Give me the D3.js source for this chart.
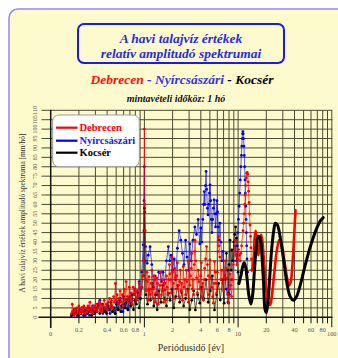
<!DOCTYPE html>
<html><head><meta charset="utf-8">
<script src="https://cdn.jsdelivr.net/npm/d3@7"></script>
<style>html,body{margin:0;padding:0;background:#fff;}svg{display:block;}</style>
</head><body>
<svg id="c" width="338" height="358"></svg>
<script>
// ---- Debrecen (red) ----
const debrecenPeriod = [
0.167,0.170,0.173,0.178,0.182,0.186,0.190,0.195,0.200,0.205,
0.210,0.216,0.220,0.226,0.232,0.238,0.244,0.250,0.256,0.262,
0.268,0.275,0.282,0.290,0.297,0.305,0.313,0.320,0.330,0.338,
0.346,0.355,0.364,0.373,0.383,0.393,0.403,0.413,0.424,0.435,
0.446,0.458,0.470,0.480,0.490,0.500,0.512,0.525,0.538,0.550,
0.565,0.580,0.595,0.610,0.625,0.638,0.655,0.670,0.690,0.705,
0.720,0.740,0.760,0.780,0.800,0.820,0.840,0.860,0.880,0.900,
0.930,0.960,0.980,1.000,1.010,1.020,1.035,1.050,1.065,1.080,
1.100,1.120,1.140,1.160,1.180,1.200,1.220,1.240,1.260,1.280,
1.305,1.330,1.355,1.380,1.405,1.430,1.460,1.490,1.520,1.550,
1.575,1.600,1.630,1.660,1.690,1.720,1.750,1.780,1.815,1.850,
1.875,1.900,1.930,1.960,1.995,2.030,2.065,2.100,2.140,2.180,
2.215,2.250,2.290,2.330,2.375,2.420,2.460,2.500,2.550,2.600,
2.650,2.700,2.750,2.800,2.850,2.900,2.950,3.000,3.050,3.100,
3.150,3.200,3.250,3.300,3.350,3.400,3.435,3.470,3.530,3.600,
3.680,3.750,3.820,3.900,3.980,4.050,4.120,4.200,4.260,4.330,
4.400,4.500,4.600,4.700,4.800,4.900,5.000,5.120,5.250,5.350,
5.450,5.530,5.600,5.700,5.800,5.900,6.000,6.080,6.160,6.280,
6.400,6.550,6.700,6.850,7.000,7.150,7.300,7.450,7.600,7.750,
7.900,8.050,8.200,8.380,8.550,8.720,8.900,9.100,9.300,9.500,
9.700,9.900,10.100,10.300,10.500,10.700,10.900,11.300,11.450,11.600,
11.750,11.900,12.050,12.200,12.350,12.500,12.650,12.800,12.950,13.100,
13.250,13.400,13.550,13.700,13.850,14.000];
const debrecenAmp = [
2,7,3,1,4,2,5,3,6,2,
4,5,3,6,2,5,3,6,4,8,
3,5,2,6,4,7,3,5,8,4,
7,3,6,9,5,7,4,8,10,6,
9,5,11,8,18,9,12,7,10,14,
8,12,6,15,9,19,11,8,16,10,
13,7,16,12,15,9,14,11,18,12,
16,22,30,100,60,46,20,14,24,19,
9,21.6,15,12,18,25,10,15,22,20,
8,13,21,18,7,11,17,24,12,14,
20,8,18,14.5,9,22,16,12,20,28,
23,20,13,32,24,18,10,26,21,15,
22,29,17,11,19,25,14,18,9,27,
16,20,12,25,19,14,8,30,17,22,
26,34,15,20,12,28,35,41,30,21,
13,25,19,15,22,29,11,18,9,20,
26,31,37.6,28,22,12,30.5,21,16,11,
7.5,18,29.6,24,18,13,24,35,43,38,
32,20,25,18,14,22,30,26,21,12,
7.5,15,23,17,11,20,28,35,41,33,
28,31,36,33,30,34,38,46,50,55,
60,65,70,74,76.5,77,76,72,67,61,
55,49,43,37,31,25];
const debrecenLongPeriod = [
14.0,14.5,15.0,15.4,15.9,16.4,17.0,17.6,18.2,19.0,
20.0,21.0,22.0,23.0,24.5,26.0,27.5,29.0,31.0,33.0,
35.0,36.5,38.0,39.5,41.0];
const debrecenLongAmp = [
25,28,42,46,40,33,38,44,40,28,
15,8,6.5,12,25,36,41,39,31,22,
17,19,28,42,57];

// ---- Nyírcsászári (blue) ----
const nyirPeriod = [
0.167,0.172,0.178,0.185,0.192,0.200,0.208,0.216,0.224,0.233,
0.242,0.250,0.260,0.270,0.280,0.290,0.300,0.310,0.322,0.335,
0.346,0.360,0.373,0.387,0.400,0.415,0.430,0.445,0.460,0.475,
0.490,0.510,0.530,0.550,0.570,0.590,0.610,0.630,0.650,0.670,
0.700,0.730,0.760,0.790,0.820,0.850,0.880,0.900,0.940,0.970,
0.990,1.000,1.010,1.030,1.070,1.100,1.150,1.200,1.250,1.300,
1.360,1.420,1.470,1.520,1.580,1.650,1.720,1.800,1.860,1.930,
2.000,2.080,2.150,2.250,2.350,2.450,2.550,2.650,2.750,2.850,
2.950,3.050,3.150,3.300,3.450,3.600,3.750,3.900,4.000,4.100,
4.200,4.280,4.350,4.420,4.480,4.550,4.620,4.700,4.780,4.860,
4.940,5.020,5.100,5.180,5.260,5.350,5.450,5.550,5.650,5.750,
5.850,5.950,6.050,6.150,6.250,6.400,6.550,6.700,6.900,7.200,
7.500,7.800,8.100,8.500,8.900,9.300,9.600,9.800,9.950,10.100,
10.250,10.400,10.550,10.700,10.850,10.950,11.050,11.150,11.250,11.350,
11.450,11.550,11.650,11.750,11.850,11.950,12.050,12.150,12.250,12.350,
12.450,12.600];
const nyirAmp = [
1,3,2,4,1,3,2,5,1,4,
2,3,1,4,6,2,5,3,7,9,
4,2,5,3,7,4,2,6,3,5,
2,8,4,10,6,3,7,5,9,4,
11,7,12,15,9,13,19,10,24,38.5,
62,80,56,37.6,28.7,33,37.5,28,16,22,
12,24,23.7,19,24,18,30,37.6,30,33,
25,31,20,36.7,46,41,34,28,41,32,
25,39,30,41,48,44,52,39,47.5,40,
52,60,66.8,60,70,77.5,68,58,54.4,60,
66,70.4,62,52,45,52,58,62.4,55,48,
55,62,56,48,41,50,40,30,35,22,
15,8,12,20,30,38,30,38,45,52,
59,66,73,80,86,91,95,97.5,98.7,97.5,
95,91,86,80,73,66,59,52,45,38,
31,24];

// ---- Kocsér (black) ----
const kocserPeriod = [
0.167,0.172,0.178,0.184,0.190,0.197,0.204,0.210,0.218,0.225,
0.233,0.240,0.248,0.256,0.265,0.274,0.283,0.292,0.302,0.312,
0.323,0.334,0.345,0.357,0.370,0.382,0.395,0.410,0.425,0.440,
0.455,0.470,0.487,0.505,0.523,0.540,0.560,0.580,0.600,0.620,
0.640,0.665,0.690,0.715,0.740,0.765,0.790,0.820,0.850,0.880,
0.910,0.940,0.970,0.990,1.000,1.015,1.040,1.080,1.120,1.160,
1.210,1.260,1.310,1.370,1.430,1.500,1.570,1.640,1.720,1.800,
1.880,1.970,2.060,2.160,2.270,2.380,2.500,2.620,2.750,2.900,
3.050,3.200,3.350,3.500,3.700,3.900,4.100,4.300,4.550,4.800,
5.050,5.300,5.600,5.900,6.200,6.450,6.800,7.100,7.300,7.500,
7.700,7.850,8.000,8.200,8.400,8.600,8.800,9.000,9.200,9.400,
9.600,9.800,10.000,10.200];
const kocserAmp = [
1,2,4,2,3,1,4,2,5,3,
1,4,2,5,3,1,4,2,5,3,
6,2,4,7,3,5,2,6,4,8,
3,5,2,7,4,9,3,6,11,5,
8,4,10,6,12,4,9,7,13,5,
10,16,22,46,58,30,12,7,15,9,
18,6,12,4,14,8,17,10,6,12.8,
9,15,5,11,17,8,13,6,10,15,
4,9,14,3.9,12,7.5,16,10,20,8,
14,22,3.9,12,18,9.2,20,7.5,20,34,
25,12.8,28,41,25,35.8,30,40,44,48,
42,33,24,18];
const kocserLongPeriod = [
10.2,10.7,11.2,11.6,12.0,12.5,13.0,13.7,14.3,15.0,
15.7,16.4,17.2,18.0,18.7,19.4,20.0,20.8,21.8,22.8,
24.0,25.0,26.3,27.8,29.5,31.5,33.5,36.0,39.0,42.0,
46.0,51.0,57.0,63.0,70.0,76.0,81.0];
const kocserLongAmp = [
18,22,27,29,27,20,12,7,12,26,
38,43,42,32,18,4,2.5,8,22,36,
46,50,49,44,36,26,17,11,9,11,
17,26,35,42,48,51.5,53];

// ---- axes ----
const gridPeriods = [0.2,0.3,0.4,0.5,0.6,0.7,0.8,0.9,1,2,3,4,5,6,7,8,9,10,20,30,40,50,60,70,80,90,100];
const decadePeriods = [0.1,1,10,100];
const xLabelValues = [0.1,0.2,0.4,0.6,0.8,1,2,4,6,8,10,20,40,60,80,100];
const xLabelTexts  = ["0","0.2","0.4","0.6","0.8","1","2","4","6","8","10","20","40","60","80","100"];
const yTickValues = [0,5,10,15,20,25,30,35,40,45,50,55,60,65,70,75,80,85,90,95,100,105,110];

const legendNames = ["Debrecen","Nyírcsászári","Kocsér"];
const seriesColors = ["#ff0000","#0000ff","#000000"];

const svg = d3.select("#c");
const serif = "'Liberation Serif', serif";

// panel
svg.append("rect").attr("x",9).attr("y",9).attr("width",345).attr("height",365).attr("rx",9)
  .attr("fill","#fdfbce").attr("stroke","#8a8af0").attr("stroke-width",1.5);

// title box
svg.append("rect").attr("x",78).attr("y",24).attr("width",206).attr("height",39).attr("rx",6)
  .attr("fill","none").attr("stroke","#1a1aee").attr("stroke-width",2);
const tt = svg.append("text").attr("text-anchor","middle").style("font-family",serif)
  .attr("font-weight","bold").attr("font-style","italic").attr("font-size",13.5).attr("fill","#2a2ae8");
tt.append("tspan").attr("x",181).attr("y",42.5).text("A havi talajvíz értékek");
tt.append("tspan").attr("x",181).attr("y",57.5).text("relatív amplitudó spektrumai");

const st = svg.append("text").attr("x",182).attr("y",83.5).attr("text-anchor","middle").style("font-family",serif)
  .attr("font-weight","bold").attr("font-style","italic").attr("font-size",13.5);
st.append("tspan").attr("fill","#ff1010").text("Debrecen");
st.append("tspan").attr("fill","#3434e8").text(" - Nyírcsászári");
st.append("tspan").attr("fill","#000").text(" - Kocsér");

svg.append("text").attr("x",176).attr("y",101.5).attr("text-anchor","middle").style("font-family",serif)
  .attr("font-weight","bold").attr("font-style","italic").attr("font-size",10).attr("fill","#111")
  .text("mintavételi időköz: 1 hó");

// scales
const x = d3.scaleLog().domain([0.1,100]).range([50.7,331.8]);
const y = d3.scaleLinear().domain([0,110]).range([317.3,110.3]);
const gridColor = "#4a4a34";

svg.append("g").selectAll("line").data(yTickValues.filter(v=>v>0)).join("line")
  .attr("x1",41.5).attr("x2",332.4).attr("y1",d=>y(d)).attr("y2",d=>y(d))
  .attr("stroke",gridColor).attr("stroke-width",1);
svg.append("g").selectAll("line").data(gridPeriods).join("line")
  .attr("x1",d=>x(d)).attr("x2",d=>x(d)).attr("y1",y(110)).attr("y2",y(0))
  .attr("stroke",gridColor).attr("stroke-width",1);
svg.append("g").selectAll("line").data(gridPeriods.concat([0.1])).join("line")
  .attr("x1",d=>x(d)).attr("x2",d=>x(d)).attr("y1",y(0))
  .attr("y2",d=>y(0)+(decadePeriods.includes(d)?10:6))
  .attr("stroke","#111").attr("stroke-width",1);
svg.append("line").attr("x1",38.5).attr("x2",332.4).attr("y1",y(0)).attr("y2",y(0)).attr("stroke","#111").attr("stroke-width",1.4);
svg.append("line").attr("x1",x(0.1)).attr("x2",x(0.1)).attr("y1",y(110)-0.5).attr("y2",328).attr("stroke","#111").attr("stroke-width",1.5);

svg.append("g").selectAll("text").data(yTickValues).join("text")
  .attr("transform",d=>`translate(37,${y(d)}) rotate(-90)`)
  .attr("text-anchor","middle").style("font-family",serif).attr("font-size",6).attr("fill","#555")
  .text(d=>d);
svg.append("g").selectAll("text").data(xLabelValues).join("text")
  .attr("x",d=>x(d)).attr("y",d=>decadePeriods.includes(d)?336.3:331.5)
  .attr("text-anchor","middle").style("font-family",serif).attr("font-size",6.3).attr("fill","#555")
  .text((d,i)=>xLabelTexts[i]);

svg.append("text").attr("x",191).attr("y",351).attr("text-anchor","middle").style("font-family",serif)
  .attr("font-size",10).attr("fill","#333").text("Periódusidő [év]");
svg.append("text").attr("transform","translate(25,213) rotate(-90)").attr("text-anchor","middle")
  .style("font-family",serif).attr("font-size",7.4).attr("fill","#333")
  .text("A havi talajvíz értékek amplitudó spektruma [mm/hó]");

// legend
const lg = svg.append("g");
lg.append("rect").attr("x",52.7).attr("y",115).attr("width",86.6).attr("height",51.7).attr("rx",6)
  .attr("fill","#fff").attr("stroke","#9a9a9a").attr("stroke-width",1);
legendNames.forEach((n,i)=>{
  const yy = [127.7,140.7,152.7][i];
  lg.append("line").attr("x1",56).attr("x2",77.5).attr("y1",yy).attr("y2",yy).attr("stroke",seriesColors[i]).attr("stroke-width",2.2);
  lg.append("text").attr("x",79.5).attr("y",yy+3.6).style("font-family",serif).attr("font-weight","bold")
    .attr("font-size",10.5).attr("fill",i===1?"#2020f0":seriesColors[i]).text(n);
});

// data
const plot = svg.append("g");
function drawNoisy(P,V,color){
  const pts = P.map((p,i)=>[x(p),y(V[i])]);
  plot.append("path").attr("d",d3.line()(pts)).attr("fill","none").attr("stroke",color)
    .attr("stroke-width",0.9).attr("stroke-opacity",0.7);
  plot.append("g").selectAll("circle").data(pts).join("circle")
    .attr("cx",d=>d[0]).attr("cy",d=>d[1]).attr("r",1.4).attr("fill",color);
}
function drawSmooth(P,V,color,w){
  const pts = P.map((p,i)=>[x(p),y(V[i])]);
  plot.append("path").attr("d",d3.line().curve(d3.curveCatmullRom)(pts)).attr("fill","none")
    .attr("stroke",color).attr("stroke-width",w).attr("stroke-linecap","round");
}
drawNoisy(nyirPeriod,nyirAmp,seriesColors[1]);
drawNoisy(kocserPeriod,kocserAmp,seriesColors[2]);
drawNoisy(debrecenPeriod,debrecenAmp,seriesColors[0]);
drawSmooth(debrecenLongPeriod,debrecenLongAmp,seriesColors[0],2.6);
drawSmooth(kocserLongPeriod,kocserLongAmp,seriesColors[2],3);
</script>
</body></html>
